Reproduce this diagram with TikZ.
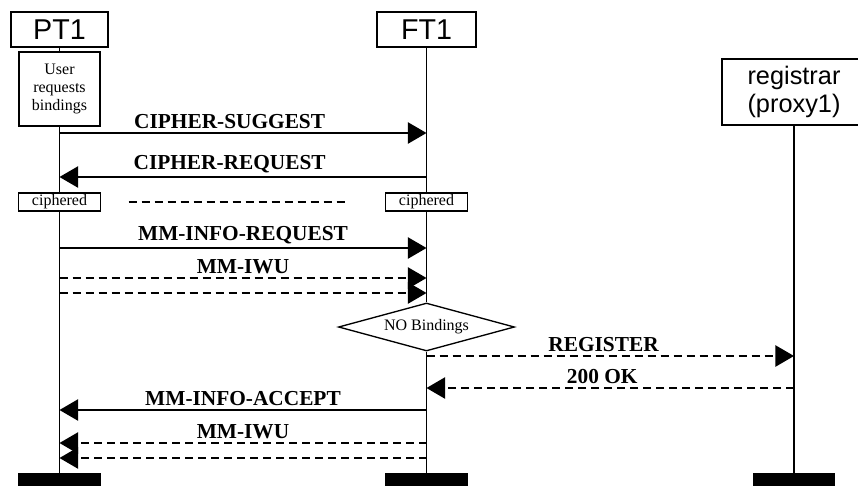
\documentclass[tikz,border=0pt]{standalone}
\usepackage{fontspec}
\setmainfont{Liberation Serif}
\newfontfamily\headfont{Liberation Sans}
\usepackage{tikz}
\usetikzlibrary{arrows.meta, positioning, shapes.geometric}

\begin{document}
\begin{tikzpicture}[x=0.75pt, y=-0.75pt,
    entity/.style={draw, line width=1.3pt, fill=white, inner sep=0pt,
      font=\headfont\fontsize{21.5}{24}\selectfont, minimum height=26pt},
    note/.style={draw, line width=1pt, fill=white, inner sep=0pt,
      font=\fontsize{12}{13.5}\selectfont},
    endbar/.style={fill=black, inner sep=0pt, minimum width=62pt, minimum height=10pt},
    life/.style={line width=1.4pt},
    msg/.style={line width=1.2pt, -{Triangle[length=14pt, width=16pt]}},
    dmsg/.style={msg, dash pattern=on 6pt off 3.75pt},
    lbl/.style={font=\bfseries\fontsize{16}{18}\selectfont, inner sep=1pt, above=1.5pt}]

  \useasboundingbox (0,0) rectangle (858,486);

  % Draw the entity boxes on top
  \node[entity, minimum width=73pt] (pt1) at (59.5,29.5) {PT1};
  \node[entity, minimum width=74pt] (ft1) at (426.5,29.5) {FT1};
  \node[entity, minimum width=108pt, minimum height=49.5pt, align=center,
    font=\headfont\fontsize{19}{21}\selectfont] (reg) at (794,92) {registrar\\(proxy1)};

  % Draw the end bars
  \node[endbar] (ptEnd) at (59.5,479.5) {};
  \node[endbar] (ftEnd) at (426.5,479.5) {};
  \node[endbar] (regEnd) at (794,479.5) {};

  % Notes on the lifelines
  \node[note, minimum width=60.75pt, minimum height=55.5pt, align=center] (ask) at (59.5,89) {User\\requests\\bindings};
  \node[note, minimum width=61.5pt, minimum height=13.5pt] (cph1) at (59.5,202) {ciphered};
  \node[note, minimum width=61.5pt, minimum height=13.5pt] (cph2) at (426.5,202) {ciphered};
  \node[note, diamond, aspect=3.67, minimum width=132pt, minimum height=36pt] (noBind) at (426.5,327) {NO Bindings};

  % Draw lifelines
  \draw[life] (pt1) -- (ask);
  \draw[life] (ask) -- (cph1);
  \draw[life] (cph1) -- (ptEnd);
  \draw[life] (ft1) -- (cph2);
  \draw[life] (cph2) -- (noBind);
  \draw[life] (noBind) -- (ftEnd);
  \draw[life] (reg) -- (regEnd);

  % Mark message levels on the lifelines
  \foreach \n/\y in {1/133, 2/177, 3/248, 4/278, 5/293, 6/410, 7/443, 8/458} {
    \coordinate (p\n) at (pt1 |- 0,\y);
    \coordinate (f\n) at (ft1 |- 0,\y);
  }
  \foreach \n/\y in {9/356, 10/388} {
    \coordinate (f\n) at (ft1 |- 0,\y);
    \coordinate (r\n) at (reg |- 0,\y);
  }

  % Cipher mode switch
  \draw[msg] (p1) -- (f1) node[lbl, midway, xshift=-10pt] {CIPHER-SUGGEST};
  \draw[msg] (f2) -- (p2) node[lbl, midway, xshift=-10pt] {CIPHER-REQUEST};
  \draw[line width=1.2pt, dash pattern=on 6pt off 3.75pt, shorten <=20.6pt, shorten >=29pt] (cph1) -- (cph2);

  % Info request
  \draw[msg] (p3) -- (f3) node[lbl, midway] {MM-INFO-REQUEST};
  \draw[dmsg] (p4) -- (f4) node[lbl, midway] {MM-IWU};
  \draw[dmsg] (p5) -- (f5);

  % Registration with the proxy
  \draw[dmsg] (f9) -- (r9) node[lbl, midway, xshift=-5pt] {REGISTER};
  \draw[dmsg] (r10) -- (f10) node[lbl, midway, xshift=-6pt] {200 OK};

  % Info accept
  \draw[msg] (f6) -- (p6) node[lbl, midway] {MM-INFO-ACCEPT};
  \draw[dmsg] (f7) -- (p7) node[lbl, midway] {MM-IWU};
  \draw[dmsg] (f8) -- (p8);

\end{tikzpicture}
\end{document}
